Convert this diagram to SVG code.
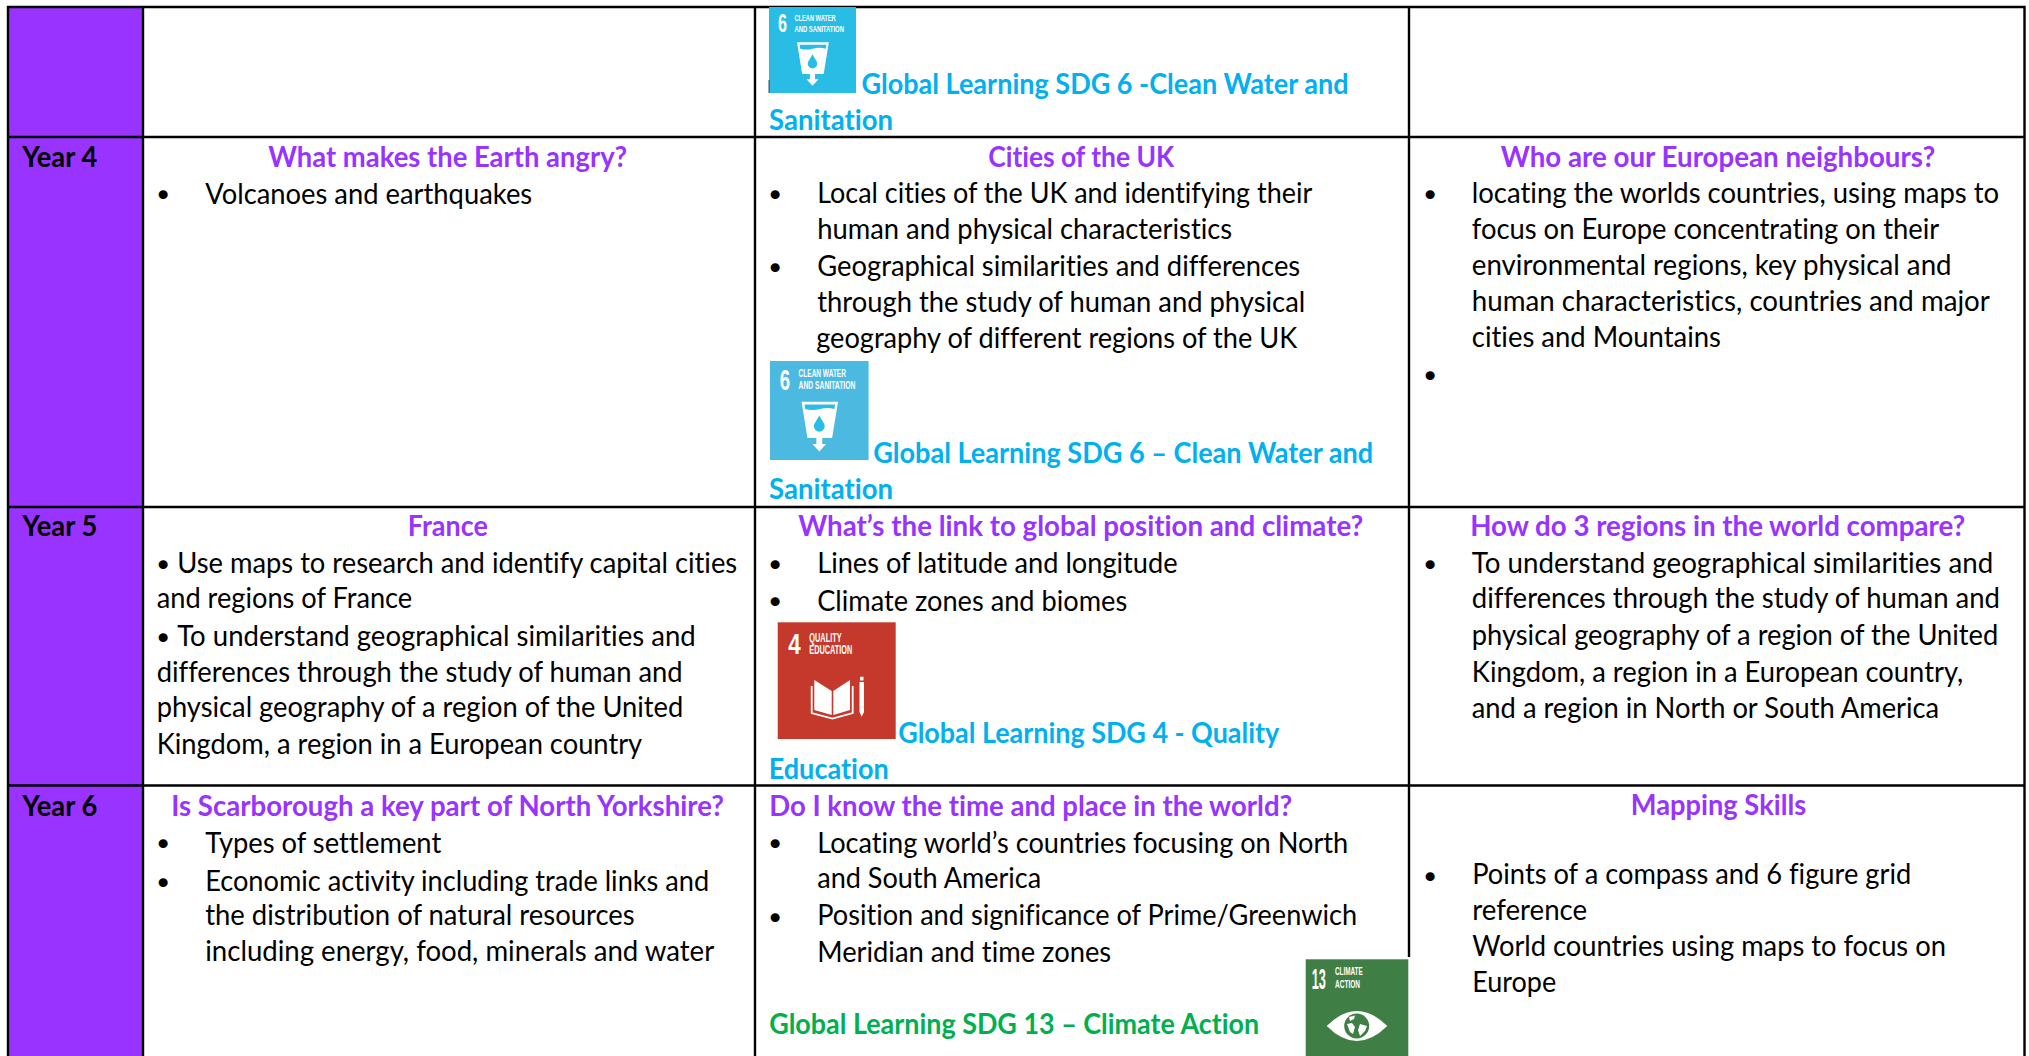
<svg xmlns="http://www.w3.org/2000/svg" xmlns:xlink="http://www.w3.org/1999/xlink" width="2029" height="1056" viewBox="0 0 2029 1056">
<style>
text{font-family:"Lato","Carlito","Open Sans",sans-serif;font-size:28px;fill:#000;white-space:pre;font-variant-ligatures:none}
.h{font-weight:700;fill:#9933ff;transform:translateY(.6px)}
.y{font-weight:700;fill:#000;transform:translateY(.6px)}
.s{font-weight:700;fill:#00b0f0;transform:translateY(.6px)}
.g{font-weight:700;fill:#00b050;transform:translateY(.6px)}
.b{font-family:"DejaVu Sans",sans-serif;font-size:31px;text-anchor:middle}
.ln{stroke:#000;stroke-width:2.4;fill:none}
.il{font-family:"Liberation Sans",sans-serif;fill:#fff;font-weight:700;font-size:11px}
.in{font-family:"Liberation Sans",sans-serif;fill:#fff;font-weight:700;font-size:29px}
.il4{font-family:"Liberation Sans",sans-serif;fill:#fff;font-weight:700;font-size:13px}
.il13{font-family:"Liberation Sans",sans-serif;fill:#fff;font-weight:700;font-size:10.500px}
</style>
<defs>
<symbol id="water" viewBox="0 0 100 100">
<text class="in" x="10" y="29" textLength="10.500" lengthAdjust="spacingAndGlyphs">6</text>
<text class="il" x="29" y="16.500" textLength="48" lengthAdjust="spacingAndGlyphs">CLEAN WATER</text>
<text class="il" x="29" y="28.700" textLength="57.500" lengthAdjust="spacingAndGlyphs">AND SANITATION</text>
<path fill="#fff" d="M32 41H69L63 78H53V84H57L50 91.500L43 84H47V78H38Z"/>
<path fill="#29bde6" d="M35 44H66L65.300 48.500Q58 46.500 50.500 48.500Q43 50.500 35.700 48.500Z"/>
<path fill="#29bde6" d="M50 55C52.500 60 55.500 63 55.500 66A5.500 5.500 0 0 1 44.500 66C44.500 63 47.500 60 50 55Z"/>
</symbol>
</defs>
<rect width="2029" height="1056" fill="#fff"/>
<g id="year-column">
<rect x="8" y="7" width="135" height="1049" fill="#9933ff"/>
</g>
<g id="grid">
<path class="ln" d="M8 1056V7H2024.500V1056M143 7V1056M755 7V1056M1409 7V957M8 137H2024.500M8 507H2024.500M8 785.500H2024.500"/>
</g>
<g id="icon-sdg6-top">
<rect x="769" y="7" width="87" height="86" fill="#29bde6"/>
<use href="#water" xlink:href="#water" x="769" y="7" width="87" height="86"/>
<path d="M769 80V93" stroke="#123" stroke-width="0.800"/>
</g>
<g id="icon-sdg6-year4">
<rect x="770" y="361" width="98.600" height="99" fill="#4bb9e0"/>
<use href="#water" xlink:href="#water" x="770" y="361" width="98.600" height="99"/>
</g>
<g id="icon-sdg4">
<rect x="777.700" y="622.300" width="118" height="116.700" fill="#c5392c"/>
<text x="788.300" y="654.300" style="font-family:'Liberation Sans',sans-serif;fill:#fff;font-weight:700;font-size:30px" textLength="12.400" lengthAdjust="spacingAndGlyphs">4</text>
<text class="il4" x="809.300" y="641.700" textLength="32.400" lengthAdjust="spacingAndGlyphs">QUALITY</text>
<text class="il4" x="809.300" y="654.300" textLength="43" lengthAdjust="spacingAndGlyphs">EDUCATION</text>
<path fill="#fff" d="M814.300 680L831.700 691V715L814.300 710ZM850 680L833.300 691V715L850 710Z"/>
<path fill="none" stroke="#fff" stroke-width="1.800" d="M811.700 686V713L832.500 718.500L852.700 713V686"/>
<path fill="#fff" d="M859.500 682H864V712L861.700 716.700L859.500 712ZM860 676.700H863.500V680.500H860Z"/>
</g>
<g id="icon-sdg13">
<rect x="1304" y="957.500" width="107" height="98.500" fill="#fff"/>
<rect x="1305.700" y="959.300" width="102.600" height="96.700" fill="#3f7e44"/>
<text transform="translate(1311.700,989) scale(.44,1)" style="font-family:'Liberation Sans',sans-serif;fill:#fff;font-weight:700;font-size:29px">13</text>
<text class="il13" x="1335" y="975" textLength="27.700" lengthAdjust="spacingAndGlyphs">CLIMATE</text>
<text class="il13" x="1335" y="987.800" textLength="25" lengthAdjust="spacingAndGlyphs">ACTION</text>
<path fill="#fff" d="M1326.700 1026Q1356.700 996 1387.300 1026Q1356.700 1056 1326.700 1026Z"/>
<circle cx="1356.700" cy="1026" r="12.500" fill="#3f7e44"/>
<path fill="#fff" d="M1349 1017L1355 1015.500L1354 1019L1350 1021ZM1347 1024L1352 1023L1355 1027L1353 1034L1350 1032ZM1360 1024L1367 1026L1365 1031L1360 1036L1358 1030Z"/>
</g>
<g id="row-year3" transform="translate(-0.5,0.8)">
<text class="s" x="862" y="92.300" textLength="487" lengthAdjust="spacingAndGlyphs">Global Learning SDG 6 -Clean Water and</text>
<text class="s" x="769.500" y="128.700" textLength="124" lengthAdjust="spacingAndGlyphs">Sanitation</text>
</g>
<g id="row-year4" transform="translate(-0.8,0.6)">
<text class="y" x="23" y="165.700" textLength="75" lengthAdjust="spacingAndGlyphs">Year 4</text>
<text class="h" x="269" y="165.700" textLength="359" lengthAdjust="spacingAndGlyphs">What makes the Earth angry?</text>
<text class="b" x="164" y="205">•</text>
<text x="206" y="203" textLength="327" lengthAdjust="spacingAndGlyphs">Volcanoes and earthquakes</text>
<text class="h" x="989" y="165.700" textLength="186" lengthAdjust="spacingAndGlyphs">Cities of the UK</text>
<text class="b" x="776" y="205">•</text>
<text x="818" y="202.700" textLength="495" lengthAdjust="spacingAndGlyphs">Local cities of the UK and identifying their</text>
<text x="818" y="238.700" textLength="415" lengthAdjust="spacingAndGlyphs">human and physical characteristics</text>
<text class="b" x="776" y="278">•</text>
<text x="818" y="275.700" textLength="483" lengthAdjust="spacingAndGlyphs">Geographical similarities and differences</text>
<text x="818" y="311.700" textLength="488" lengthAdjust="spacingAndGlyphs">through the study of human and physical</text>
<text x="817" y="347.700" textLength="481" lengthAdjust="spacingAndGlyphs">geography of different regions of the UK</text>
<text class="s" x="874" y="461.700" textLength="500" lengthAdjust="spacingAndGlyphs">Global Learning SDG 6 – Clean Water and</text>
<text class="s" x="769.800" y="497.700" textLength="124" lengthAdjust="spacingAndGlyphs">Sanitation</text>
<text class="h" x="1501.600" y="165.700" textLength="434.400" lengthAdjust="spacingAndGlyphs">Who are our European neighbours?</text>
<text class="b" x="1431" y="205">•</text>
<text x="1472.600" y="202.700" textLength="527.400" lengthAdjust="spacingAndGlyphs">locating the worlds countries, using maps to</text>
<text x="1472.600" y="238.700" textLength="467.400" lengthAdjust="spacingAndGlyphs">focus on Europe concentrating on their</text>
<text x="1472.600" y="274.700" textLength="479.800" lengthAdjust="spacingAndGlyphs">environmental regions, key physical and</text>
<text x="1472.600" y="310.700" textLength="518.100" lengthAdjust="spacingAndGlyphs">human characteristics, countries and major</text>
<text x="1472.600" y="346" textLength="249.200" lengthAdjust="spacingAndGlyphs">cities and Mountains</text>
<text class="b" x="1431" y="386">•</text>
</g>
<g id="row-year5" transform="translate(-0.8,0.6)">
<text class="y" x="23" y="534.800" textLength="75" lengthAdjust="spacingAndGlyphs">Year 5</text>
<text class="h" x="408.600" y="534.800" textLength="80" lengthAdjust="spacingAndGlyphs">France</text>
<text class="b" x="164" y="575">•</text>
<text x="178" y="572.700" textLength="560" lengthAdjust="spacingAndGlyphs">Use maps to research and identify capital cities</text>
<text x="157.500" y="607.400" textLength="255.500" lengthAdjust="spacingAndGlyphs">and regions of France</text>
<text class="b" x="164" y="648">•</text>
<text x="178" y="645.400" textLength="518.500" lengthAdjust="spacingAndGlyphs">To understand geographical similarities and</text>
<text x="157.500" y="681" textLength="526" lengthAdjust="spacingAndGlyphs">differences through the study of human and</text>
<text x="157.500" y="716" textLength="526.500" lengthAdjust="spacingAndGlyphs">physical geography of a region of the United</text>
<text x="157.500" y="753" textLength="485.500" lengthAdjust="spacingAndGlyphs">Kingdom, a region in a European country</text>
<text class="h" x="799" y="534.800" textLength="565" lengthAdjust="spacingAndGlyphs">What’s the link to global position and climate?</text>
<text class="b" x="776" y="575">•</text>
<text x="818" y="572.700" textLength="360.400" lengthAdjust="spacingAndGlyphs">Lines of latitude and longitude</text>
<text class="b" x="776" y="612">•</text>
<text x="818" y="610" textLength="310" lengthAdjust="spacingAndGlyphs">Climate zones and biomes</text>
<text class="s" x="899" y="741.800" textLength="381" lengthAdjust="spacingAndGlyphs">Global Learning SDG 4 - Quality</text>
<text class="s" x="769.500" y="777.700" textLength="120" lengthAdjust="spacingAndGlyphs">Education</text>
<text class="h" x="1471" y="534.700" textLength="495" lengthAdjust="spacingAndGlyphs">How do 3 regions in the world compare?</text>
<text class="b" x="1431" y="575">•</text>
<text x="1472.600" y="572.700" textLength="521.400" lengthAdjust="spacingAndGlyphs">To understand geographical similarities and</text>
<text x="1472.600" y="607.300" textLength="528.200" lengthAdjust="spacingAndGlyphs">differences through the study of human and</text>
<text x="1472.600" y="644" textLength="526.400" lengthAdjust="spacingAndGlyphs">physical geography of a region of the United</text>
<text x="1472.600" y="681" textLength="491.400" lengthAdjust="spacingAndGlyphs">Kingdom, a region in a European country,</text>
<text x="1472.600" y="717" textLength="467.400" lengthAdjust="spacingAndGlyphs">and a region in North or South America</text>
</g>
<g id="row-year6" transform="translate(-0.8,0.6)">
<text class="y" x="23" y="815" textLength="75" lengthAdjust="spacingAndGlyphs">Year 6</text>
<text class="h" x="172" y="815" textLength="552.700" lengthAdjust="spacingAndGlyphs">Is Scarborough a key part of North Yorkshire?</text>
<text class="b" x="164" y="854.500">•</text>
<text x="206" y="852" textLength="236" lengthAdjust="spacingAndGlyphs">Types of settlement</text>
<text class="b" x="164" y="893">•</text>
<text x="206" y="890" textLength="504" lengthAdjust="spacingAndGlyphs">Economic activity including trade links and</text>
<text x="206" y="924.500" textLength="429.500" lengthAdjust="spacingAndGlyphs">the distribution of natural resources</text>
<text x="206" y="960" textLength="509" lengthAdjust="spacingAndGlyphs">including energy, food, minerals and water</text>
<text class="h" x="770" y="815" textLength="523" lengthAdjust="spacingAndGlyphs">Do I know the time and place in the world?</text>
<text class="b" x="776" y="854.500">•</text>
<text x="818" y="852" textLength="531" lengthAdjust="spacingAndGlyphs">Locating world’s countries focusing on North</text>
<text x="818" y="887.600" textLength="224" lengthAdjust="spacingAndGlyphs">and South America</text>
<text class="b" x="776" y="928">•</text>
<text x="818" y="924.800" textLength="540" lengthAdjust="spacingAndGlyphs">Position and significance of Prime/Greenwich</text>
<text x="818" y="961" textLength="294" lengthAdjust="spacingAndGlyphs">Meridian and time zones</text>
<text class="g" x="770" y="1032.600" textLength="490" lengthAdjust="spacingAndGlyphs">Global Learning SDG 13 – Climate Action</text>
<text class="h" x="1631.600" y="814.300" textLength="175.400" lengthAdjust="spacingAndGlyphs">Mapping Skills</text>
<text class="b" x="1431" y="887">•</text>
<text x="1473" y="883" textLength="439" lengthAdjust="spacingAndGlyphs">Points of a compass and 6 figure grid</text>
<text x="1473" y="919" textLength="115" lengthAdjust="spacingAndGlyphs">reference</text>
<text x="1473" y="955" textLength="473.700" lengthAdjust="spacingAndGlyphs">World countries using maps to focus on</text>
<text x="1473" y="991" textLength="84" lengthAdjust="spacingAndGlyphs">Europe</text>
</g>
</svg>
